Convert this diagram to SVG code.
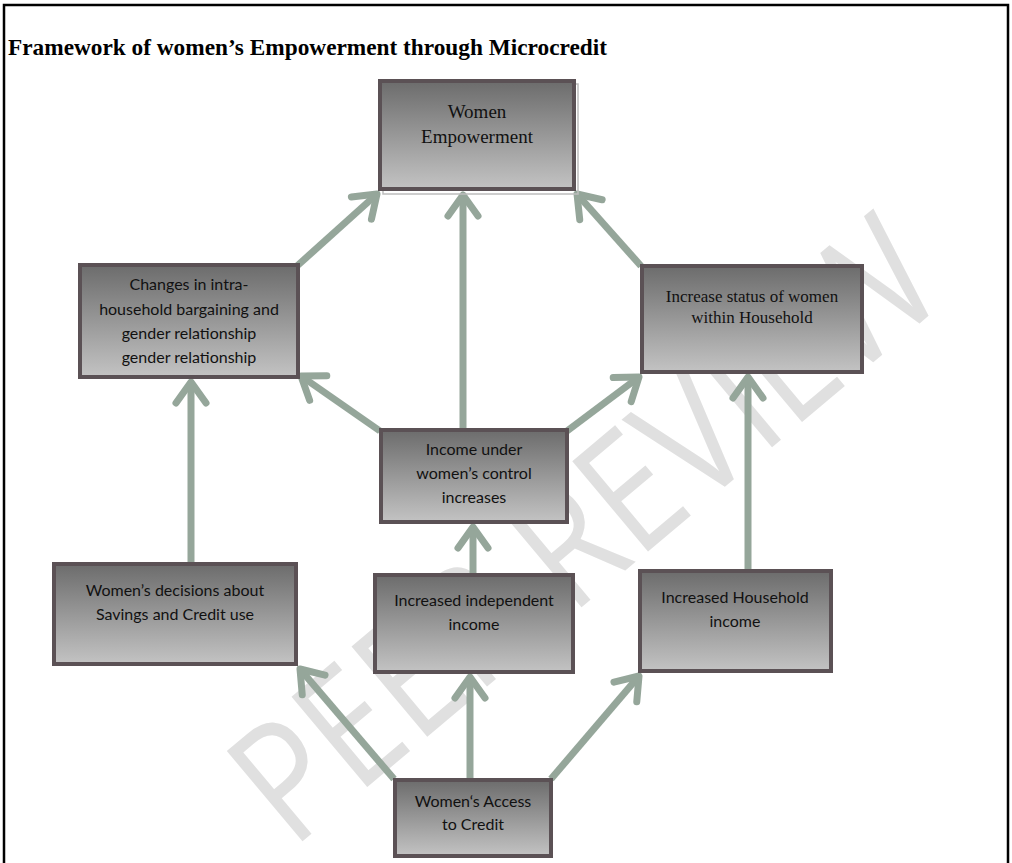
<svg xmlns="http://www.w3.org/2000/svg" width="1012" height="863" viewBox="0 0 1012 863">
<defs>
  <linearGradient id="boxfill" x1="0" y1="0" x2="0" y2="1">
    <stop offset="0" stop-color="#6c6c6c"/>
    <stop offset="1" stop-color="#c3c3c3"/>
  </linearGradient>
  <marker id="ah" markerUnits="userSpaceOnUse" markerWidth="60" markerHeight="60" viewBox="-30 -30 60 60" refX="0" refY="0" orient="auto" overflow="visible">
    <path d="M-21,-15 L0,0 L-21,15" fill="none" stroke="#95a69a" stroke-width="7" stroke-linecap="round" stroke-linejoin="round"/>
  </marker>
</defs>
<style>
  .box { fill: url(#boxfill); stroke: #5b5155; stroke-width: 4; }
  .serif { font-family: "Liberation Serif", "Times New Roman", serif; fill: #111; text-anchor: middle; }
  .sans { font-family: "Lato", "Liberation Sans", sans-serif; fill: #111; text-anchor: middle; font-size: 16px; }
  .arrow { fill: none; stroke: #95a69a; stroke-width: 7; marker-end: url(#ah); }
  .wm { font-family: "Open Sans", "Liberation Sans", sans-serif; font-size: 165px; font-weight: 400; fill: #e0e0e0; }
</style>
<rect x="0" y="0" width="1012" height="863" fill="#ffffff"/>
<g id="watermark">
  <text class="wm" x="292" y="850" textLength="860" lengthAdjust="spacingAndGlyphs" transform="rotate(-40 292 850)">PEER REVIEW</text>
</g>
<path d="M4,863 V5 H1008 V863" fill="none" stroke="#000" stroke-width="2.5"/>
<text x="8" y="55" font-family="Liberation Serif, Times New Roman, serif" font-weight="bold" font-size="23.3" fill="#000">Framework of women’s Empowerment through Microcredit</text>

<g id="connectors">
  <line class="arrow" x1="297" y1="266" x2="377" y2="194"/>
  <line class="arrow" x1="463" y1="429" x2="463" y2="195"/>
  <line class="arrow" x1="641" y1="266" x2="577" y2="194"/>
  <line class="arrow" x1="380" y1="431" x2="301" y2="376"/>
  <line class="arrow" x1="567" y1="431" x2="639" y2="377"/>
  <line class="arrow" x1="191" y1="563" x2="191" y2="382"/>
  <line class="arrow" x1="473" y1="574" x2="473" y2="527"/>
  <line class="arrow" x1="748" y1="570" x2="748" y2="377"/>
  <line class="arrow" x1="394" y1="779" x2="300" y2="669"/>
  <line class="arrow" x1="470" y1="779" x2="470" y2="677"/>
  <line class="arrow" x1="551" y1="779" x2="639" y2="676"/>
</g>

<g id="n-empowerment">
  <rect x="383" y="84" width="195" height="110" fill="none" stroke="#bdbdbd" stroke-width="1.5"/>
  <rect class="box" x="380" y="81" width="194" height="108"/>
  <text class="serif" font-size="19" x="477" y="118">Women</text>
  <text class="serif" font-size="19" x="477" y="143">Empowerment</text>
</g>
<g id="n-changes">
  <rect class="box" x="80" y="265" width="218" height="112"/>
  <text class="sans" x="189" y="290">Changes in intra-</text>
  <text class="sans" x="189" y="315">household bargaining and</text>
  <text class="sans" x="189" y="339">gender relationship</text>
  <text class="sans" x="189" y="363">gender relationship</text>
</g>
<g id="n-status">
  <rect class="box" x="642" y="266" width="220" height="106"/>
  <text class="serif" font-size="17" x="752" y="302">Increase status of women</text>
  <text class="serif" font-size="17" x="752" y="323">within Household</text>
</g>
<g id="n-income-control">
  <rect class="box" x="381" y="430" width="186" height="92"/>
  <text class="sans" x="474" y="455">Income under</text>
  <text class="sans" x="474" y="479">women’s control</text>
  <text class="sans" x="474" y="503">increases</text>
</g>
<g id="n-decisions">
  <rect class="box" x="54" y="564" width="242" height="100"/>
  <text class="sans" x="175" y="596">Women’s decisions about</text>
  <text class="sans" x="175" y="620">Savings and Credit use</text>
</g>
<g id="n-independent">
  <rect class="box" x="375" y="575" width="198" height="97"/>
  <text class="sans" x="474" y="606">Increased independent</text>
  <text class="sans" x="474" y="630">income</text>
</g>
<g id="n-household">
  <rect class="box" x="640" y="571" width="191" height="100"/>
  <text class="sans" x="735" y="603">Increased Household</text>
  <text class="sans" x="735" y="627">income</text>
</g>
<g id="n-access">
  <rect class="box" x="395" y="780" width="156" height="76"/>
  <text class="sans" x="473" y="807">Women‘s Access</text>
  <text class="sans" x="473" y="830">to Credit</text>
</g>
</svg>
